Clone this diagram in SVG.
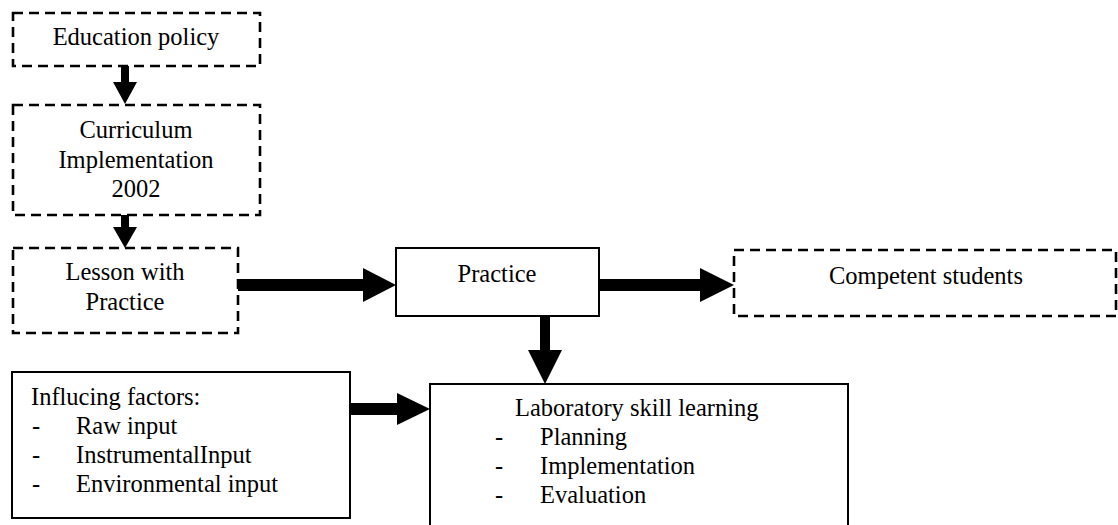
<svg xmlns="http://www.w3.org/2000/svg" width="1118" height="525" viewBox="0 0 1118 525">
  <style>
    .dashed { fill: #fff; stroke: #000; stroke-width: 2.6; stroke-dasharray: 10 6; }
    .solid { fill: #fff; stroke: #000; stroke-width: 2; }
    .arrow { fill: #000; stroke: none; }
    text { font-family: "Liberation Serif", "Times New Roman", serif; font-size: 24.5px; fill: #000; }
    .c { text-anchor: middle; }
  </style>
  <rect width="1118" height="525" fill="#fff"/>

  <g id="connectors">
    <!-- Education policy -> Curriculum -->
    <polygon class="arrow" points="121,66 129,66 129,82 137,82 125,104 113,82 121,82"/>
    <!-- Curriculum -> Lesson -->
    <polygon class="arrow" points="121,215 129,215 129,227 137,227 125,248 113,227 121,227"/>
    <!-- Lesson -> Practice -->
    <polygon class="arrow" points="238,279 363,279 363,268 396,285 363,302 363,291 238,291"/>
    <!-- Practice -> Competent students -->
    <polygon class="arrow" points="599,279 700,279 700,268 734,285 700,302 700,291 599,291"/>
    <!-- Practice -> Laboratory skill learning -->
    <polygon class="arrow" points="540,316 550,316 550,350 562,350 545,384 528,350 540,350"/>
    <!-- Influencing factors -> Laboratory skill learning -->
    <polygon class="arrow" points="350,403 397,403 397,393 430,409 397,425 397,415 350,415"/>
  </g>

  <g id="education-policy">
    <rect class="dashed" x="13" y="13" width="247" height="53"/>
    <text class="c" x="136" y="45">Education policy</text>
  </g>

  <g id="curriculum">
    <rect class="dashed" x="13" y="105" width="247" height="110"/>
    <text class="c" x="136" y="138">Curriculum</text>
    <text class="c" x="136" y="168">Implementation</text>
    <text class="c" x="136" y="197">2002</text>
  </g>

  <g id="lesson">
    <rect class="dashed" x="13" y="248" width="225" height="85"/>
    <text class="c" x="125" y="280">Lesson with</text>
    <text class="c" x="125" y="310">Practice</text>
  </g>

  <g id="practice">
    <rect class="solid" x="396" y="248" width="203" height="68"/>
    <text class="c" x="497" y="282">Practice</text>
  </g>

  <g id="competent-students">
    <rect class="dashed" x="734" y="250" width="382" height="66"/>
    <text class="c" x="926" y="284">Competent students</text>
  </g>

  <g id="influencing-factors">
    <rect class="solid" x="12" y="372" width="338" height="146"/>
    <text x="31" y="405">Influcing factors:</text>
    <text x="32" y="434">-</text>
    <text x="76" y="434">Raw input</text>
    <text x="32" y="463">-</text>
    <text x="76" y="463">InstrumentalInput</text>
    <text x="32" y="492">-</text>
    <text x="76" y="492">Environmental input</text>
  </g>

  <g id="laboratory-skill-learning">
    <rect class="solid" x="430" y="384" width="418" height="150"/>
    <text x="515" y="416">Laboratory skill learning</text>
    <text x="495" y="445">-</text>
    <text x="540" y="445">Planning</text>
    <text x="495" y="474">-</text>
    <text x="540" y="474">Implementation</text>
    <text x="495" y="503">-</text>
    <text x="540" y="503">Evaluation</text>
  </g>
</svg>
